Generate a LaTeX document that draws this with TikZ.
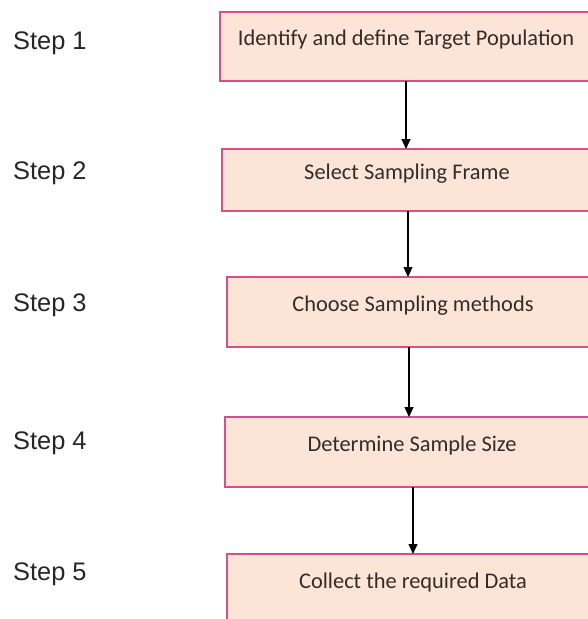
\documentclass[tikz,border=0pt]{standalone}
\usepackage{fontspec}
\setmainfont{Carlito}
\newfontfamily\stepfont{Liberation Sans}
\usetikzlibrary{arrows.meta}
\definecolor{boxfill}{RGB}{252,228,214}
\definecolor{boxline}{RGB}{214,78,138}
\definecolor{txt}{RGB}{50,44,42}
\tikzset{
  stepbox/.style={draw=boxline, fill=boxfill, line width=2.2pt, inner sep=0pt, outer sep=0pt, anchor=north west},
  boxtext/.style={font=\fontsize{22.4}{26}\selectfont, text=txt, inner sep=0pt},
  steplabel/.style={font=\stepfont\fontsize{25.4}{30}\selectfont, text=black!85, anchor=west, inner sep=0pt},
  arr/.style={draw=black, line width=1.2pt, -{Triangle[length=10pt,width=9pt]}}
}
\begin{document}
\begin{tikzpicture}[x=1pt,y=-1pt]
\useasboundingbox (0,0) rectangle (588,619);
\clip (0,0) rectangle (588,619);
\fill[white] (0,0) rectangle (588,619);
% boxes
\node[stepbox, minimum width=372pt, minimum height=69pt] (b1) at (220,12) {};
\node[stepbox, minimum width=372pt, minimum height=62pt] (b2) at (222,149) {};
\node[stepbox, minimum width=364pt, minimum height=70pt] (b3) at (227,277) {};
\node[stepbox, minimum width=376pt, minimum height=70pt] (b4) at (225,417) {};
\node[stepbox, minimum width=380pt, minimum height=80pt] (b5) at (227,554) {};
% box texts
\node[boxtext] (t1) at (406,40) {Identify and define Target Population};
\node[boxtext] (t2) at (407,174) {Select Sampling Frame};
\node[boxtext] (t3) at (413,306) {Choose Sampling methods};
\node[boxtext] (t4) at (412,446) {Determine Sample Size};
\node[boxtext] (t5) at (413,583) {Collect the required Data};
% step labels
\node[steplabel] (s1) at (13,43) {Step 1};
\node[steplabel] (s2) at (13,173) {Step 2};
\node[steplabel] (s3) at (13,305) {Step 3};
\node[steplabel] (s4) at (13,443) {Step 4};
\node[steplabel] (s5) at (13,574) {Step 5};
% arrows
\draw[arr] (b1.south) -- (b2.north -| b1.south);
\draw[arr] (b2.south) -- (b3.north -| b2.south);
\draw[arr] (b3.south) -- (b4.north -| b3.south);
\draw[arr] (b4.south) -- (b5.north -| b4.south);
\end{tikzpicture}
\end{document}
